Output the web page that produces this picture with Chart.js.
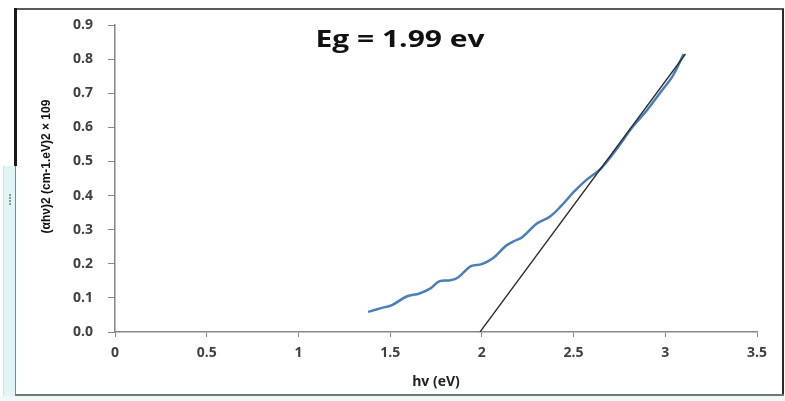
<!DOCTYPE html>
<html>
<head>
<meta charset="utf-8">
<script src="https://cdn.jsdelivr.net/npm/chart.js@4/dist/chart.umd.min.js"></script>
<style>
  html, body { margin: 0; padding: 0; background: #fff; }
  #wrap { position: relative; width: 785px; height: 401px; overflow: hidden; background: #fff; }
  #wrap canvas { position: absolute; left: 0; top: 0; }
  .f { position: absolute; pointer-events: none; }
</style>
</head>
<body>
<div id="wrap">
  <canvas id="tauc" width="785" height="401"></canvas>
  <!-- chart frame bits -->
  <div class="f" style="left:14px;top:8px;width:770px;height:2px;background:#5a5a5a;"></div>
  <div class="f" style="left:14px;top:8px;width:3px;height:158px;background:#1a1a1a;"></div>
  <div class="f" style="left:782px;top:9px;width:2px;height:387px;background:#2a2a2a;"></div>
  <div class="f" style="left:3px;top:166px;width:12px;height:235px;background:#e2f4f6;border-left:1px solid #c8e4e8;"></div>
  <div class="f" style="left:15px;top:166px;width:1px;height:230px;background:#7a8a8c;"></div>
  <div class="f" style="left:15px;top:394px;width:769px;height:2px;background:#6e7878;"></div>
  <div class="f" style="left:0;top:396px;width:785px;height:5px;background:#eef8f9;"></div>
  <div class="f" style="left:9px;top:194px;width:2px;height:2px;background:#8a9a9c;"></div>
  <div class="f" style="left:9px;top:197px;width:2px;height:2px;background:#8a9a9c;"></div>
  <div class="f" style="left:9px;top:200px;width:2px;height:2px;background:#8a9a9c;"></div>
  <div class="f" style="left:9px;top:203px;width:2px;height:2px;background:#8a9a9c;"></div>
</div>
<script>
// measured curve (alpha*h*nu)^2 vs photon energy
const hv = [1.38, 1.45, 1.51, 1.59, 1.66, 1.72, 1.77, 1.83, 1.87, 1.94, 2.0, 2.06, 2.13, 2.17, 2.22,
            2.30, 2.37, 2.43, 2.50, 2.57, 2.65, 2.74, 2.82, 2.90, 2.97, 3.04, 3.10];
const absorb = [0.059, 0.070, 0.079, 0.104, 0.113, 0.128, 0.149, 0.152, 0.160, 0.193, 0.199, 0.216, 0.252, 0.265, 0.278,
                0.318, 0.338, 0.368, 0.410, 0.446, 0.480, 0.540, 0.600, 0.650, 0.700, 0.750, 0.815];

// linear extrapolation to the energy axis
const fitX = [1.99, 3.11];
const fitY = [0.0, 0.815];

const xTicks = [0, 0.5, 1, 1.5, 2, 2.5, 3, 3.5];
const yTicks = [0, 0.1, 0.2, 0.3, 0.4, 0.5, 0.6, 0.7, 0.8, 0.9];

const titleText = 'Eg = 1.99 ev';
const xTitle = 'hv (eV)';
const yTitle = '\u2002\u2002\u2002\u2002(αhν)2 (cm-1.eV)2 × 109';

const axisColor = '#868686';
const tickFont = { family: "'Open Sans', 'Liberation Sans', sans-serif", size: 14, weight: 'bold' };

const egLabel = {
    id: 'egLabel',
    afterDraw(chart) {
        const ctx = chart.ctx;
        ctx.save();
        ctx.translate(400, 40);
        ctx.scale(1.25, 1);   // the original text is a bit stretched
        ctx.font = "bold 24px 'Open Sans', 'Liberation Sans', sans-serif";
        ctx.fillStyle = '#111';
        ctx.textAlign = 'center';
        ctx.textBaseline = 'middle';
        ctx.fillText(titleText, 0, 0);
        ctx.restore();
    }
};

new Chart(document.getElementById('tauc'), {
    type: 'scatter',
    data: {
        datasets: [{
            label: 'data',
            data: hv.map((x, i) => ({ x: x, y: absorb[i] })),
            showLine: true,
            borderColor: '#4a7ebb',
            borderWidth: 2.5,
            pointRadius: 0,
            tension: 0.4,
            order: 2
        }, {
            label: 'fit',
            data: fitX.map((x, i) => ({ x: x, y: fitY[i] })),
            showLine: true,
            borderColor: '#2b2b2b',
            borderWidth: 1.3,
            pointRadius: 0,
            order: 1
        }]
    },
    options: {
        responsive: false,
        animation: false,
        layout: { padding: { left: 36, right: 28, top: 25, bottom: 7 } },
        plugins: {
            legend: { display: false },
            tooltip: { enabled: false }
        },
        scales: {
            x: {
                type: 'linear',
                min: 0, max: 3.5,
                afterFit(scale) { scale.height = 62; },
                afterBuildTicks(scale) { scale.ticks = xTicks.map(v => ({ value: v })); },
                ticks: {
                    color: '#404040',
                    font: tickFont,
                    padding: 8,
                    maxRotation: 0,
                    callback: v => String(v)
                },
                grid: { drawOnChartArea: false, drawTicks: true, tickLength: 5, color: axisColor },
                border: { color: axisColor, width: 1.5 },
                title: {
                    display: true, text: xTitle, color: '#222',
                    font: { family: "'Open Sans', 'Liberation Sans', sans-serif", size: 14, weight: 'bold' },
                    padding: 4
                }
            },
            y: {
                type: 'linear',
                min: 0, max: 0.9,
                afterFit(scale) { scale.width = 79; },
                afterBuildTicks(scale) { scale.ticks = yTicks.map(v => ({ value: v })); },
                ticks: {
                    color: '#404040',
                    font: tickFont,
                    padding: 15,
                    callback: v => v.toFixed(1)
                },
                grid: { drawOnChartArea: false, drawTicks: true, tickLength: 7, color: axisColor },
                border: { color: axisColor, width: 1.5 },
                title: {
                    display: true, text: yTitle, color: '#111',
                    font: { family: "'Liberation Sans Narrow', 'Liberation Sans', sans-serif", size: 12, weight: 'bold' },
                    padding: 3
                }
            }
        }
    },
    plugins: [egLabel]
});
</script>
</body>
</html>
